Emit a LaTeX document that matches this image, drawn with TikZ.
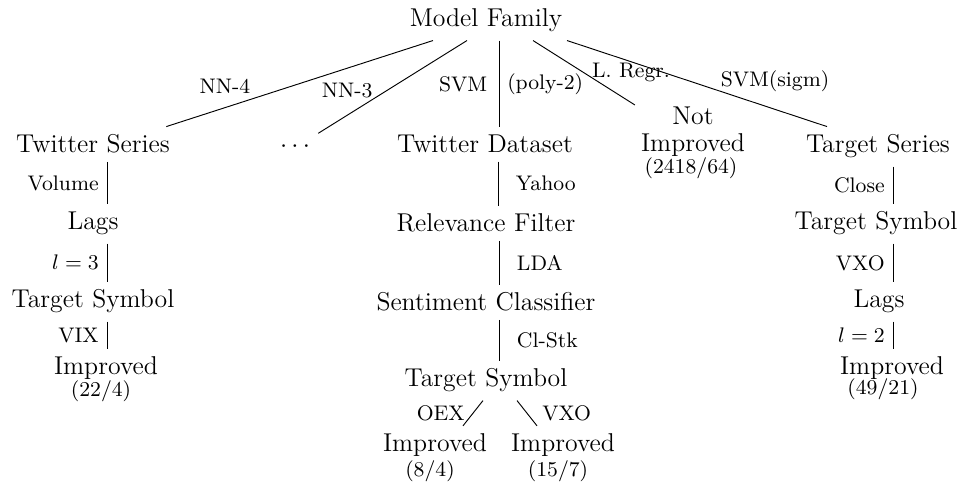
\documentclass[tikz,border=0pt]{standalone}
\usepackage{tikz}
\usetikzlibrary{calc}
\usetikzlibrary{positioning}

\begin{document}
\begin{tikzpicture}[
    tree node/.style={anchor=base, font=\fontsize{11}{11.5}\selectfont},
    count node/.style={anchor=base, font=\fontsize{9}{10}\selectfont},
    branch label/.style={font=\fontsize{9}{10}\selectfont}]

\useasboundingbox (0,0) rectangle (14.4,7.275);

\draw
    (7.29,6.87) node [tree node, name=model family] {Model Family}
    (1.395,4.98) node [tree node, name=twitter series] {Twitter Series}
    (4.425,4.98) node [tree node, name=dots] {$\cdots$}
    (7.275,4.98) node [tree node, name=twitter dataset] {Twitter Dataset}
    (10.395,5.295) node [tree node, anchor=center, align=center, name=not improved] {Not\\Improved}
    (10.365,4.665) node [count node, name=not improved count] {(2418/64)}
    (13.17,4.98) node [tree node, name=target series] {Target Series}
;

\draw
    (1.395,3.825) node [tree node, name=lags left] {Lags}
    (1.395,2.655) node [tree node, name=symbol left] {Target Symbol}
    (1.59,1.65) node [tree node, name=improved left] {Improved}
    (1.515,1.32) node [count node, name=count left] {(22/4)}
;

\draw
    (7.29,3.795) node [tree node, name=relevance filter] {Relevance Filter}
    (7.29,2.61) node [tree node, name=sentiment classifier] {Sentiment Classifier}
    (7.29,1.47) node [tree node, name=symbol middle] {Target Symbol}
    (6.525,0.495) node [tree node, name=improved oex] {Improved}
    (6.45,0.12) node [count node, name=count oex] {(8/4)}
    (8.445,0.495) node [tree node, name=improved vxo] {Improved}
    (8.37,0.12) node [count node, name=count vxo] {(15/7)}
;

\draw
    (13.14,3.825) node [tree node, name=symbol right] {Target Symbol}
    (13.185,2.655) node [tree node, name=lags right] {Lags}
    (13.38,1.65) node [tree node, name=improved right] {Improved}
    (13.245,1.35) node [count node, name=count right] {(49/21)}
;

%% Model family branches
\draw ([xshift=-0.795cm]model family.south) -- ([xshift=1.1cm]twitter series.north)
    node [branch label, pos=0.78, above=2.5pt] {NN-4};
\draw ([xshift=-0.285cm]model family.south) -- (dots.north east)
    node [branch label, pos=0.54, left=2.5pt] {NN-3};
\draw ([xshift=0.195cm]model family.south) -- ([xshift=0.195cm]model family.south |- twitter dataset.north)
    node [branch label, midway, left=1.5pt] {SVM}
    node [branch label, midway, right] {(poly-2)};
\draw ([xshift=0.705cm]model family.south) -- ([shift={(0.03,-0.09)}]not improved.north west)
    node [branch label, pos=0.5, right] {L. Regr.};
\draw ([xshift=1.215cm]model family.south) -- ([xshift=-0.765cm]target series.north)
    node [branch label, pos=0.8, above=4pt] {SVM(sigm)};

%% Left chain
\draw ([xshift=0.21cm]twitter series.south) -- ([xshift=0.21cm]twitter series.south |- lags left.north)
    node [branch label, midway, left] {Volume};
\draw ([xshift=0.21cm]lags left.south) -- ([xshift=0.21cm]lags left.south |- symbol left.north)
    node [branch label, midway, left] {$l=3$};
\draw ([xshift=0.21cm]symbol left.south) -- ([xshift=0.21cm]symbol left.south |- improved left.north)
    node [branch label, midway, left] {VIX};

%% Middle chain
\draw ([xshift=0.2cm]twitter dataset.south) -- ([xshift=0.2cm]twitter dataset.south |- relevance filter.north)
    node [branch label, midway, right=4pt] {Yahoo};
\draw ([xshift=0.2cm]relevance filter.south) -- ([xshift=0.2cm]relevance filter.south |- sentiment classifier.north)
    node [branch label, midway, right=4pt] {LDA};
\draw ([xshift=0.2cm]sentiment classifier.south) -- ([xshift=0.2cm]sentiment classifier.south |- symbol middle.north)
    node [branch label, midway, right=4pt] {Cl-Stk};
\draw ([xshift=-0.045cm]symbol middle.south) -- ([xshift=0.42cm]improved oex.north)
    node [branch label, midway, left] {OEX};
\draw ([xshift=0.465cm]symbol middle.south) -- ([xshift=-0.39cm]improved vxo.north)
    node [branch label, midway, right=3pt] {VXO};

%% Right chain
\draw ([xshift=0.225cm]target series.south) -- ([xshift=0.225cm]target series.south |- symbol right.north)
    node [branch label, midway, left] {Close};
\draw ([xshift=0.255cm]symbol right.south) -- ([xshift=0.255cm]symbol right.south |- lags right.north)
    node [branch label, midway, left] {VXO};
\draw ([xshift=0.21cm]lags right.south) -- ([xshift=0.21cm]lags right.south |- improved right.north)
    node [branch label, midway, left] {$l=2$};

\end{tikzpicture}
\end{document}
